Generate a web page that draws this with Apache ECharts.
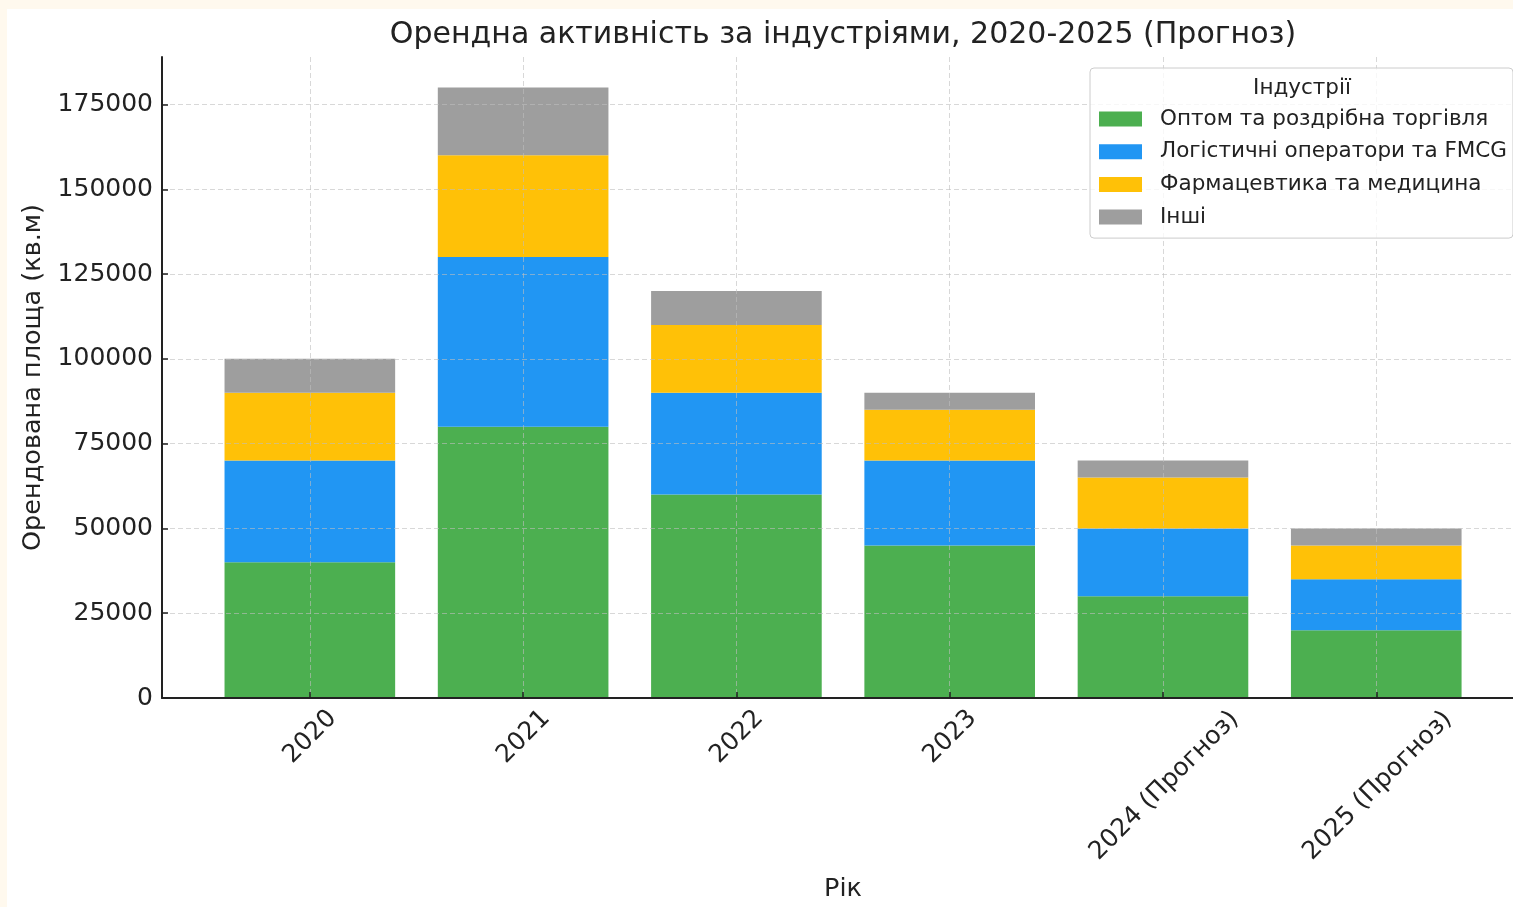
<!DOCTYPE html>
<html>
<head>
<meta charset="utf-8">
<script src="https://cdn.jsdelivr.net/npm/echarts@6/dist/echarts.min.js"></script>
<style>
  html, body { margin: 0; padding: 0; background: #FFF9EE; }
  #chart { position: absolute; left: 7px; top: 9px; width: 1506px; height: 898px; background: #ffffff; }
</style>
</head>
<body>
<div id="chart"></div>
<script>
const categories = ['2020', '2021', '2022', '2023', '2024 (Прогноз)', '2025 (Прогноз)'];
const retail = [40000, 80000, 60000, 45000, 30000, 20000];
const logistics = [30000, 50000, 30000, 25000, 20000, 15000];
const pharma = [20000, 30000, 20000, 15000, 15000, 10000];
const others = [10000, 20000, 10000, 5000, 5000, 5000];
const seriesNames = ['Оптом та роздрібна торгівля', 'Логістичні оператори та FMCG', 'Фармацевтика та медицина', 'Інші'];
const yTicks = [0, 25000, 50000, 75000, 100000, 125000, 150000, 175000];
const xPositions = [0, 1, 2, 3, 4, 5];

const FONT = '"DejaVu Sans", sans-serif';
const TICK_SIZE = 25;
const colors = ['#4CAF50', '#2196F3', '#FFC107', '#9E9E9E'];

// measure label widths to emulate matplotlib's centred rotated labels
const cv = document.createElement('canvas').getContext('2d');
cv.font = TICK_SIZE + 'px "DejaVu Sans"';
const rich = {};
categories.forEach((c, i) => {
  const L = cv.measureText(c).width;
  rich['r' + i] = {
    fontSize: TICK_SIZE, fontFamily: FONT, color: '#222',
    padding: [L * 0.52, L * 0.5, 0, 0]
  };
});

const chart = echarts.init(document.getElementById('chart'));
const gridLine = { show: true, lineStyle: { color: 'rgba(190,190,190,0.6)', width: 1, type: [5, 3] } };

function mk(name, arr, idx) {
  return {
    name: name, type: 'bar', stack: 'total', barWidth: '80%', z: 2,
    xAxisIndex: 1, yAxisIndex: 1,
    itemStyle: { color: colors[idx] },
    data: arr
  };
}

chart.setOption({
  animation: false,
  title: [
    { text: 'Орендна активність за індустріями, 2020-2025 (Прогноз)', left: 836, top: 11, textAlign: 'center', padding: 0,
      textStyle: { fontFamily: FONT, fontSize: 30, fontWeight: 'normal', color: '#222' } },
    { text: 'Індустрії', left: 1295, top: 68, textAlign: 'center', padding: 0,
      textStyle: { fontFamily: FONT, fontSize: 21.5, fontWeight: 'normal', color: '#222' } }
  ],
  legend: {
    orient: 'vertical', left: 1083, top: 59,
    padding: [40, 6, 10, 9],
    itemWidth: 43, itemHeight: 15, itemGap: 10.7,
    icon: 'rect',
    backgroundColor: 'rgba(255,255,255,0.8)', borderColor: '#cccccc', borderWidth: 1, borderRadius: 4,
    textStyle: { fontFamily: FONT, fontSize: 21.5, color: '#222', padding: [0, 0, 0, 13] },
    data: seriesNames
  },
  grid: [
    { left: 155, right: 0, top: 48, bottom: 209, containLabel: false },
    { left: 196.2, width: 1279.7, top: 48, bottom: 209, containLabel: false }
  ],
  xAxis: [{
    type: 'value', gridIndex: 0, min: -0.693, max: 5.641, z: 3,
    name: 'Рік', nameLocation: 'middle', nameGap: 178,
    nameTextStyle: { fontFamily: FONT, fontSize: 25.5, color: '#222', padding: [0, 0, 0, 11] },
    axisLine: { show: true, onZero: false, lineStyle: { color: '#222', width: 2 } },
    axisTick: { show: true, inside: true, length: 6, customValues: xPositions, lineStyle: { color: '#222', width: 1.5 } },
    axisLabel: {
      customValues: xPositions, rotate: 45, align: 'center', verticalAlign: 'middle', margin: 16,
      fontFamily: FONT, fontSize: TICK_SIZE, color: '#222',
      formatter: function (v) { const i = xPositions.indexOf(Math.round(v)); return '{r' + i + '|' + categories[i] + '}'; },
      rich: rich
    },
    splitLine: gridLine
  }, {
    type: 'category', gridIndex: 1, data: categories, show: false
  }],
  yAxis: [{
    type: 'value', gridIndex: 0, min: 0, max: 189000, z: 3,
    name: 'Орендована площа (кв.м)', nameLocation: 'middle', nameGap: 109,
    nameTextStyle: { fontFamily: FONT, fontSize: 25.5, color: '#222' },
    axisLine: { show: true, onZero: false, lineStyle: { color: '#222', width: 2 } },
    axisTick: { show: true, inside: true, length: 6, customValues: yTicks, lineStyle: { color: '#222', width: 1.5 } },
    axisLabel: { customValues: yTicks, margin: 9, fontFamily: FONT, fontSize: TICK_SIZE, color: '#222',
      formatter: function (v) { return String(v); } },
    splitLine: gridLine
  }, {
    type: 'value', gridIndex: 1, min: 0, max: 189000, show: false, splitLine: { show: false }
  }],
  series: [
    mk(seriesNames[0], retail, 0),
    mk(seriesNames[1], logistics, 1),
    mk(seriesNames[2], pharma, 2),
    mk(seriesNames[3], others, 3)
  ]
});
</script>
</body>
</html>
